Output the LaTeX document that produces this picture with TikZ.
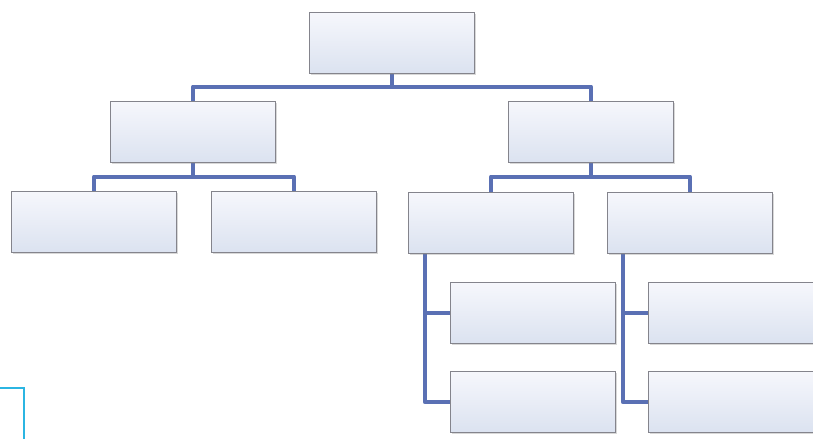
\documentclass[tikz,border=0pt]{standalone}
\usetikzlibrary{shadows,backgrounds}
\definecolor{boxtop}{HTML}{f6f7fc}
\definecolor{boxbottom}{HTML}{dbe2f0}
\definecolor{boxline}{HTML}{84848c}
\definecolor{linkblue}{HTML}{5a70b4}
\definecolor{cyanmark}{HTML}{2bb5e2}

\tikzset{
  orgbox/.style={rectangle, draw=boxline, line width=1.1pt, top color=boxtop,
    bottom color=boxbottom, minimum width=4.95cm, minimum height=1.84cm,
    inner sep=0pt, drop shadow={opacity=0.3, shadow xshift=1.3pt, shadow yshift=-1.5pt}},
  link/.style={linkblue, line width=3.6pt, line join=round}
}

\begin{document}
\begin{tikzpicture}[x=0.03cm,y=-0.03cm]

% Frame
\useasboundingbox (0,0) rectangle (813,439);

% ===== LEVEL 1 =====
\node[orgbox] (top) at (392,43) {};

% ===== LEVEL 2 =====
\node[orgbox] (lft) at (193,132) {};
\node[orgbox] (rgt) at (591,132) {};

% ===== LEVEL 3 =====
\node[orgbox] (ll) at (94,222) {};
\node[orgbox] (lr) at (294,222) {};
\node[orgbox] (rl) at (491,223) {};
\node[orgbox] (rr) at (690,223) {};

% ===== LEVEL 4 =====
\node[orgbox] (aone) at (533,313) {};
\node[orgbox] (atwo) at (533,402) {};
\node[orgbox] (bone) at (731,313) {};
\node[orgbox] (btwo) at (731,402) {};

% Spine points under the level 3 boxes
\coordinate (sa) at (425,254);
\coordinate (sb) at (623,254);

% ===== CONNECTORS =====
\begin{scope}[on background layer]
\fill[white] (0,0) rectangle (813,439);
\draw[link] (top.south) -- ++(0,15);
\draw[link] (lft.north) -- ++(0,-14) -| (rgt.north);

\draw[link] (lft.south) -- ++(0,16);
\draw[link] (ll.north) -- ++(0,-14) -| (lr.north);

\draw[link] (rgt.south) -- ++(0,16);
\draw[link] (rl.north) -- ++(0,-15) -| (rr.north);

\draw[link] (sa) |- (atwo.west);
\draw[link] (aone.west) -- (aone.west -| sa);
\draw[link] (sb) |- (btwo.west);
\draw[link] (bone.west) -- (bone.west -| sb);
\end{scope}

% Cyan corner mark, bottom left
\draw[cyanmark,line width=2.2pt] (0,388) -- (24,388) -- (24,439);

\end{tikzpicture}
\end{document}
